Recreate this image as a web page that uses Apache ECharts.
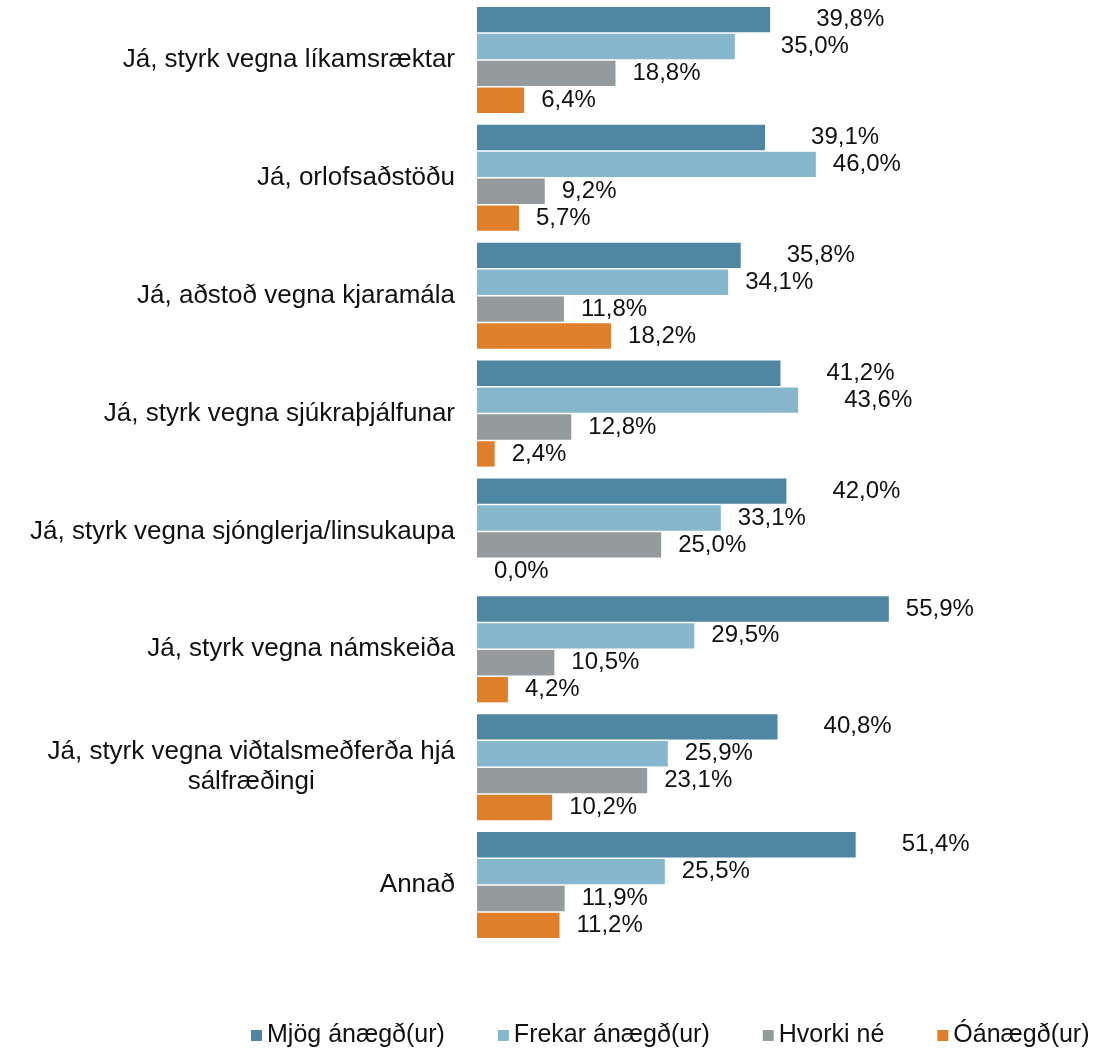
<!DOCTYPE html>
<html>
<head>
<meta charset="utf-8">
<script src="https://cdn.jsdelivr.net/npm/echarts@6/dist/echarts.min.js"></script>
<style>
  html, body { margin: 0; padding: 0; background: #fff; }
  #chart { width: 1099px; height: 1050px; }
</style>
</head>
<body>
<div id="chart"></div>
<script>
const categories = [
  'Já, styrk vegna líkamsræktar',
  'Já, orlofsaðstöðu',
  'Já, aðstoð vegna kjaramála',
  'Já, styrk vegna sjúkraþjálfunar',
  'Já, styrk vegna sjónglerja/linsukaupa',
  'Já, styrk vegna námskeiða',
  'Já, styrk vegna viðtalsmeðferða hjá\nsálfræðingi',
  'Annað'
];
const seriesNames = ['Mjög ánægð(ur)', 'Frekar ánægð(ur)', 'Hvorki né', 'Óánægð(ur)'];
const mjog = [39.8, 39.1, 35.8, 41.2, 42.0, 55.9, 40.8, 51.4];
const frekar = [35.0, 46.0, 34.1, 43.6, 33.1, 29.5, 25.9, 25.5];
const hvorki = [18.8, 9.2, 11.8, 12.8, 25.0, 10.5, 23.1, 11.9];
const oanaegd = [6.4, 5.7, 18.2, 2.4, 0.0, 4.2, 10.2, 11.2];

const colors = ['#4f86a2', '#87b7cd', '#959a9c', '#e07f2a'];
// labels that were pushed further out in the original
const farLabels = { 0: [0, 1, 2, 3, 4, 6, 7], 1: [0, 3] };

const fmt = v => v.toFixed(1).replace('.', ',') + '%';
const font = 'Liberation Sans, Arial, sans-serif';

const allData = [mjog, frekar, hvorki, oanaegd];
const series = allData.map((vals, si) => ({
  name: seriesNames[si],
  type: 'bar',
  barGap: '6%',
  barCategoryGap: '10%',
  itemStyle: { color: colors[si] },
  data: vals.map((v, i) => {
    const far = (farLabels[si] || []).indexOf(i) >= 0;
    return { value: v, label: { distance: far ? 46 : 17 } };
  }),
  label: {
    show: true,
    position: 'right',
    color: '#111',
    fontSize: 24,
    fontFamily: font,
    formatter: p => fmt(p.value)
  }
}));

const chart = echarts.init(document.getElementById('chart'));
chart.setOption({
  animation: false,
  color: colors,
  grid: { left: 477, right: 180, top: 1, height: 943, containLabel: false },
  xAxis: {
    type: 'value', min: 0, max: 60, show: false
  },
  yAxis: {
    type: 'category',
    inverse: true,
    data: categories,
    axisLine: { show: false },
    axisTick: { show: false },
    splitLine: { show: false },
    axisLabel: {
      margin: 22,
      color: '#111',
      fontSize: 26,
      fontFamily: font,
      lineHeight: 30,
      formatter: v => v.split('\n').map(s => '{c|' + s + '}').join('\n'),
      rich: {
        c: { align: 'center', fontSize: 26, lineHeight: 30, color: '#111', fontFamily: font }
      }
    }
  },
  legend: {
    data: seriesNames,
    left: 246,
    top: 1018,
    icon: 'rect',
    itemWidth: 11,
    itemHeight: 11,
    itemGap: 53,
    textStyle: { fontSize: 25, color: '#111', fontFamily: font }
  },
  series: series
});
</script>
</body>
</html>
